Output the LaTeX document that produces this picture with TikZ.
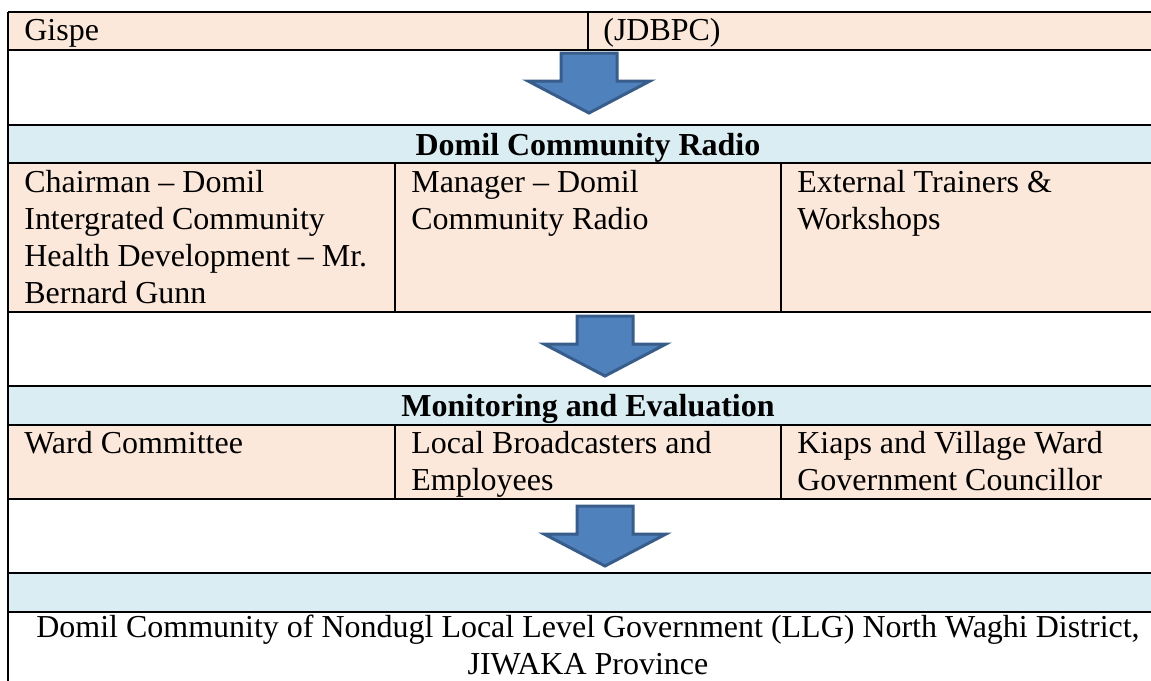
\documentclass[tikz,border=0pt]{standalone}
\usepackage{fontspec}
\setmainfont{Liberation Serif}
\usetikzlibrary{calc}

\definecolor{cellpeach}{HTML}{FCE8DA}
\definecolor{cellblue}{HTML}{DAEDF3}
\definecolor{arrowfill}{HTML}{4F81BD}
\definecolor{arrowline}{HTML}{385D8A}

% Block arrow pointing down: centre x, top y
\newcommand{\flowarrow}[2]{%
    \draw[arrowshape] (#1-28,#2) -- (#1+28,#2) -- (#1+28,#2+28)
        -- (#1+61,#2+28) -- (#1,#2+60) -- (#1-61,#2+28)
        -- (#1-28,#2+28) -- cycle;
}

\begin{document}
\begin{tikzpicture}[x=0.2mm, y=-0.2mm]
        % Table formulae (units are pixels)
        \pgfmathsetmacro{\tabL}{8}
        \pgfmathsetmacro{\tabR}{1168}
        \pgfmathsetmacro{\colA}{395}
        \pgfmathsetmacro{\colB}{781}
        \pgfmathsetmacro{\tabM}{588}

        \tikzset{
            celltext/.style={font=\fontsize{18.2}{21}\selectfont, inner sep=0,
            align=left, anchor=base west},
            headtext/.style={celltext, font=\fontsize{18.2}{21}\selectfont\bfseries,
            anchor=base},
            arrowshape/.style={fill=arrowfill, draw=arrowline,
            line width=0.6mm, line join=miter},
            rule/.style={line width=0.3mm},
        }

        \useasboundingbox (0,0) rectangle (1151,680);
        \clip (0,0) rectangle (1151,680);

        % Row boundaries
        \coordinate (R0) at (\tabL, 12);
        \coordinate (R1) at (\tabL, 50);
        \coordinate (R2) at (\tabL, 125);
        \coordinate (R3) at (\tabL, 163);
        \coordinate (R4) at (\tabL, 312);
        \coordinate (R5) at (\tabL, 386);
        \coordinate (R6) at (\tabL, 425);
        \coordinate (R7) at (\tabL, 499);
        \coordinate (R8) at (\tabL, 573);
        \coordinate (R9) at (\tabL, 612);
        \coordinate (R10) at (\tabL, 720);

        % Shaded rows
        \begin{scope}
            \fill[cellpeach] (R0) rectangle (\tabR, 50);
            \fill[cellpeach] (R3) rectangle (\tabR, 312);
            \fill[cellpeach] (R6) rectangle (\tabR, 499);

            \fill[cellblue] (R2) rectangle (\tabR, 163);
            \fill[cellblue] (R5) rectangle (\tabR, 425);
            \fill[cellblue] (R8) rectangle (\tabR, 612);
        \end{scope}

        % Grid lines
        \begin{scope}[rule]
            \foreach \r in {0,...,9} {
                \draw (R\r) -- ($(R\r) + (\tabR - \tabL, 0)$);
            }
            \draw (R0) -- (R10);
            \draw (\tabR, 12) -- (\tabR, 720);

            \draw (\tabM, 12) -- (\tabM, 50);
            \draw (\colA, 163) -- (\colA, 312);
            \draw (\colB, 163) -- (\colB, 312);
            \draw (\colA, 425) -- (\colA, 499);
            \draw (\colB, 425) -- (\colB, 499);
        \end{scope}

        % Arrows between the blocks
        \flowarrow{589}{53}
        \flowarrow{605}{316}
        \flowarrow{605}{506}

        % Cell texts (multi-line nodes sit on their last baseline)
        \node[celltext] (gispe) at (24, 40.5) {Gispe};
        \node[celltext] (jdbpc) at (603, 40.5) {(JDBPC)};

        \node[headtext] (radio) at (\tabM, 155) {Domil Community Radio};
        \node[celltext] (chairman) at (24, 303) {Chairman – Domil\\
            Intergrated Community\\Health Development – Mr.\\Bernard Gunn};
        \node[celltext] (manager) at (411, 229) {Manager – Domil\\
            Community Radio};
        \node[celltext] (trainers) at (797, 229) {External Trainers \&\\
            Workshops};

        \node[headtext] (monitor) at (\tabM, 416) {Monitoring and Evaluation};
        \node[celltext] (ward) at (24, 453) {Ward Committee};
        \node[celltext] (local) at (411, 490) {Local Broadcasters and\\
            Employees};
        \node[celltext] (kiaps) at (797, 490) {Kiaps and Village Ward\\
            Government Councillor};

        \node[celltext, align=center, anchor=base] (llg) at (\tabM, 674)
            {Domil Community of Nondugl Local Level Government (LLG) North
            Waghi District,\\JIWAKA Province};

\end{tikzpicture}
\end{document}
